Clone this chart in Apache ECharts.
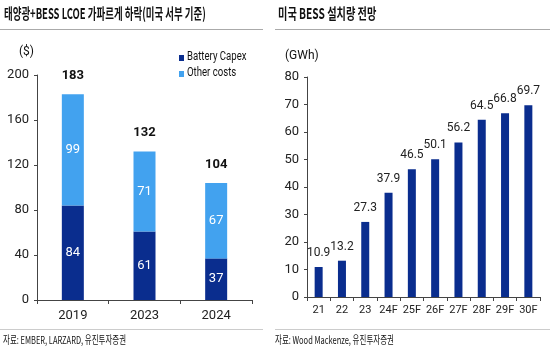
<!DOCTYPE html>
<html><head><meta charset="utf-8">
<script src="https://cdn.jsdelivr.net/npm/echarts@6/dist/echarts.min.js"></script>
<style>html,body{margin:0;padding:0;background:#fff}#c{width:550px;height:358px}</style>
</head><body><div id="c"></div>
<script>
const leftCats = ['2019','2023','2024'];
const batteryCapex = [84,61,37];
const otherCosts = [99,71,67];
const totals = [183,132,104];

const rightCats = ['21','22','23','24F','25F','26F','27F','28F','29F','30F'];
const bessInstall = [10.9,13.2,27.3,37.9,46.5,50.1,56.2,64.5,66.8,69.7];

const F = '"Noto Sans CJK KR", "Noto Sans", sans-serif';
const N = 'Roboto, "Noto Sans CJK KR", sans-serif';
const NAVY = '#0a2d8e', LIGHT = '#42a2ef';
const chart = echarts.init(document.getElementById('c'));
const axisCommon = {
  axisLine:{show:true,lineStyle:{color:'#444',width:1}},
  axisTick:{show:true,lineStyle:{color:'#444'},length:4},
  splitLine:{show:false}
};
function txt(x,y,s,size,weight,sx,font){
  return {type:'text',x:x,y:y,scaleX:sx,style:{text:s,fontFamily:font||F,fontSize:size,fontWeight:weight,fill:'#111',textVerticalAlign:'top'}};
}
chart.setOption({
  animation:false,
  textStyle:{fontFamily:N},
  graphic:[
    txt(4,6,'태양광+BESS LCOE 가파르게 하락(미국 서부 기준)',15,'bold',0.63),
    txt(278,6,'미국 BESS 설치량 전망',15,'bold',0.68),
    txt(3,334,'자료: EMBER, LARZARD, 유진투자증권',11,'normal',0.68),
    txt(275,334,'자료: Wood Mackenze, 유진투자증권',11,'normal',0.68),
    txt(19,46,'($)',12,'normal',1,N),
    txt(285,50,'(GWh)',12,'normal',1,N),
    {type:'rect',shape:{x:179,y:55,width:5,height:6},style:{fill:NAVY}},
    {type:'rect',shape:{x:179,y:71,width:5,height:6},style:{fill:LIGHT}},
    txt(187,51,'Battery Capex',12,'normal',0.8,N),
    txt(187,67,'Other costs',12,'normal',0.8,N),
    {type:'line',shape:{x1:0,y1:29.5,x2:263,y2:29.5},style:{stroke:'#aaa',lineWidth:1}},
    {type:'line',shape:{x1:275,y1:29.5,x2:550,y2:29.5},style:{stroke:'#aaa',lineWidth:1}},
    {type:'line',shape:{x1:0,y1:329.5,x2:263,y2:329.5},style:{stroke:'#ccc',lineWidth:1}},
    {type:'line',shape:{x1:275,y1:329.5,x2:550,y2:329.5},style:{stroke:'#ccc',lineWidth:1}}
  ],
  grid:[
    {left:37,top:75,width:215,height:225},
    {left:307,top:77,width:233,height:220}
  ],
  xAxis:[
    Object.assign({type:'category',gridIndex:0,data:leftCats,axisLabel:{fontFamily:N,fontSize:13,color:'#222',margin:9}},axisCommon),
    Object.assign({type:'category',gridIndex:1,data:rightCats,axisLabel:{fontFamily:N,fontSize:11,color:'#222',margin:8,interval:0}},axisCommon)
  ],
  yAxis:[
    Object.assign({type:'value',gridIndex:0,min:0,max:200,interval:40,axisLabel:{fontFamily:N,fontSize:13,color:'#222',margin:8}},axisCommon,{axisTick:{show:true,length:3,lineStyle:{color:'#444'}}}),
    Object.assign({type:'value',gridIndex:1,min:0,max:80,interval:10,axisLabel:{fontFamily:N,fontSize:13,color:'#222',margin:8}},axisCommon,{axisTick:{show:true,length:3,lineStyle:{color:'#444'}}})
  ],
  series:[
    {name:'Battery Capex',type:'bar',xAxisIndex:0,yAxisIndex:0,stack:'a',data:batteryCapex,barWidth:22,
      itemStyle:{color:NAVY},label:{show:true,position:'inside',color:'#fff',fontFamily:N,fontSize:13}},
    {name:'Other costs',type:'bar',xAxisIndex:0,yAxisIndex:0,stack:'a',data:otherCosts,barWidth:22,
      itemStyle:{color:LIGHT},label:{show:true,position:'inside',color:'#fff',fontFamily:N,fontSize:13}},
    {name:'total',type:'bar',xAxisIndex:0,yAxisIndex:0,data:totals,barWidth:22,barGap:'-100%',z:0,
      itemStyle:{color:'rgba(0,0,0,0)'},label:{show:true,position:'top',distance:12,color:'#111',fontFamily:N,fontSize:13,fontWeight:'bold'}},
    {name:'BESS',type:'bar',xAxisIndex:1,yAxisIndex:1,data:bessInstall,barWidth:8,
      itemStyle:{color:NAVY},label:{show:true,position:'top',distance:8,color:'#222',fontFamily:N,fontSize:12}}
  ]
});
</script></body></html>
